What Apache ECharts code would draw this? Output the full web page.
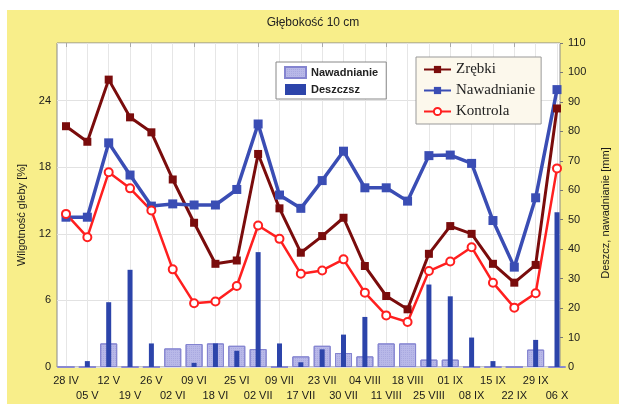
<!DOCTYPE html>
<html>
<head>
<meta charset="utf-8">
<script src="https://cdn.jsdelivr.net/npm/echarts@6/dist/echarts.min.js"></script>
<style>
html, body { margin: 0; padding: 0; background: #fff; }
#chart { position: absolute; left: 7px; top: 10px; width: 612px; height: 394px; }
</style>
</head>
<body>
<div id="chart"></div>
<script>
// terminy pomiarow
var dates = ['28 IV', '05 V', '12 V', '19 V', '26 V', '02 VI', '09 VI', '18 VI', '25 VI', '02 VII', '09 VII', '17 VII',
    '23 VII', '30 VII', '04 VIII', '11 VIII', '18 VIII', '25 VIII', '01 IX', '08 IX', '15 IX', '22 IX', '29 IX', '06 X'];

// wilgotnosc gleby [%]
var zrebki = [21.7, 20.3, 25.9, 22.5, 21.15, 16.9, 13.0, 9.3, 9.6, 19.2, 14.3, 10.3,
    11.8, 13.45, 9.1, 6.4, 5.2, 10.2, 12.7, 12.0, 9.3, 7.6, 9.2, 23.3];
var nawadnianie = [13.5, 13.5, 20.2, 17.3, 14.5, 14.7, 14.6, 14.6, 16.0, 21.9, 15.5, 14.3,
    16.8, 19.45, 16.15, 16.15, 14.95, 19.05, 19.1, 18.35, 13.2, 9.0, 15.25, 25.0];
var kontrola = [13.8, 11.7, 17.55, 16.1, 14.1, 8.8, 5.75, 5.9, 7.3, 12.75, 11.55, 8.4,
    8.7, 9.7, 6.7, 4.65, 4.05, 8.65, 9.5, 10.8, 7.6, 5.35, 6.65, 17.9];

// opad i nawadnianie [mm]
var deszcz = [0, 2, 22, 33, 8, 0, 1.4, 8, 5.5, 39, 8, 1.6,
    6, 11, 17, 0, 0, 28, 24, 10, 2, 0, 9.2, 52.5];
var nawodnienie = [0, 0, 8, 0, 0, 6.3, 7.8, 8, 7.2, 6.1, 0, 3.6,
    7.2, 4.75, 3.6, 8, 8, 2.5, 2.5, 0, 0, 0, 5.9, 0];

var leftTicks = {min: 0, max: 29.2, interval: 6};
var rightTicks = {min: 0, max: 110, interval: 10};
var barNames = {nawBar: 'Nawadnianie', Deszczsz: 'Deszczsz'};

var sans = 'Liberation Sans, Arial, sans-serif', serif = 'Liberation Serif, Times New Roman, serif';

function lineSeries(name, data, color, symbol, size, width, fill) {
    return {
        name: name, type: 'line', xAxisIndex: 1, yAxisIndex: 2, data: data,
        symbol: symbol, symbolSize: size, z: 5,
        lineStyle: {color: color, width: width},
        itemStyle: {color: fill || color, borderColor: color, borderWidth: fill ? 2 : 0}
    };
}

var chart = echarts.init(document.getElementById('chart'));
chart.setOption({
    backgroundColor: '#f8ee8a',
    animation: false,
    title: {text: 'Głębokość 10 cm', left: 'center', top: 2,
        textStyle: {fontFamily: sans, fontSize: 12, fontWeight: 'normal', color: '#222'}},
    grid: [
        {left: 50, right: 52, top: 33, bottom: 37, show: true, backgroundColor: '#fff', borderColor: '#8a8a8a', borderWidth: 1},
        {left: 59, right: 62, top: 33, bottom: 37}
    ],
    legend: [
        {data: ['nawBar', 'Deszczsz'], orient: 'vertical', left: 269, top: 52, selectedMode: false, icon: 'rect',
            formatter: function (n) { return barNames[n]; },
            itemWidth: 21, itemHeight: 11, itemGap: 5, padding: [4, 8, 4, 8],
            backgroundColor: '#fff', borderColor: '#888', borderWidth: 1,
            textStyle: {fontFamily: sans, fontSize: 11, fontWeight: 'bold', color: '#222'}},
        {data: ['Zrębki', 'Nawadnianie', 'Kontrola'], orient: 'vertical', left: 409, top: 47, selectedMode: false,
            itemWidth: 27, itemHeight: 9, itemGap: 6, padding: [5, 6, 5, 7],
            backgroundColor: '#fcf8ec', borderColor: '#999', borderWidth: 1,
            textStyle: {fontFamily: serif, fontSize: 15, color: '#222'}}
    ],
    xAxis: [
        {gridIndex: 0, type: 'value', min: 0, max: 1, show: false},
        {gridIndex: 1, type: 'category', data: dates, boundaryGap: false,
            axisLine: {show: false}, axisTick: {show: false},
            axisLabel: {interval: 0, margin: 6, fontFamily: sans, fontSize: 11, color: '#1a1a1a', lineHeight: 15,
                formatter: function (v, i) { return i % 2 ? '\n' + v : v; }},
            splitLine: {show: true, lineStyle: {color: '#e6e6e6'}}},
        {gridIndex: 1, type: 'category', data: dates, boundaryGap: false, show: false},
        {gridIndex: 1, type: 'category', data: dates, boundaryGap: false, position: 'top',
            axisLine: {show: false}, axisLabel: {show: false},
            axisTick: {show: true, inside: true, length: 4, lineStyle: {color: '#aaa'}}}
    ],
    yAxis: [
        {gridIndex: 0, type: 'value', position: 'left', min: leftTicks.min, max: leftTicks.max, interval: leftTicks.interval,
            axisLine: {show: false}, axisTick: {show: false},
            axisLabel: {showMaxLabel: false, margin: 6, fontFamily: sans, fontSize: 11, color: '#1a1a1a'},
            splitLine: {lineStyle: {color: '#e2e2e2'}},
            name: 'Wilgotność gleby [%]', nameLocation: 'middle', nameRotate: 90, nameGap: 28,
            nameTextStyle: {fontFamily: sans, fontSize: 11, color: '#1a1a1a', padding: [0, 20, 0, 0]}},
        {gridIndex: 0, type: 'value', position: 'right', min: rightTicks.min, max: rightTicks.max, interval: rightTicks.interval,
            axisLine: {show: false}, axisTick: {show: true, length: 3, lineStyle: {color: '#777'}},
            axisLabel: {margin: 8, fontFamily: sans, fontSize: 11, color: '#1a1a1a'},
            splitLine: {show: false},
            name: 'Deszcz, nawadnianie [mm]', nameLocation: 'middle', nameRotate: 90, nameGap: 40,
            nameTextStyle: {fontFamily: sans, fontSize: 11, color: '#1a1a1a', padding: [0, 16, 0, 0]}},
        {gridIndex: 1, type: 'value', min: leftTicks.min, max: leftTicks.max, show: false, splitLine: {show: false}},
        {gridIndex: 1, type: 'value', min: rightTicks.min, max: rightTicks.max, show: false, splitLine: {show: false}}
    ],
    series: [
        {name: 'nawBar', type: 'bar', xAxisIndex: 1, yAxisIndex: 3, data: nawodnienie, barWidth: 17, z: 2,
            itemStyle: {color: '#b8b8e8', borderColor: '#8484d0', borderWidth: 1,
                decal: {symbol: 'rect', symbolSize: 1, dashArrayX: [1, 1], dashArrayY: [1, 1], color: 'rgba(150,150,215,0.45)'}}},
        {name: 'Deszczsz', type: 'bar', xAxisIndex: 2, yAxisIndex: 3, data: deszcz, barWidth: 5, z: 3,
            itemStyle: {color: '#2c44aa'}},
        lineSeries('Zrębki', zrebki, '#7a0c0c', 'rect', 8, 3),
        lineSeries('Nawadnianie', nawadnianie, '#3a4db4', 'rect', 9, 3.5),
        lineSeries('Kontrola', kontrola, '#ff1f1f', 'circle', 8, 2.5, '#fff')
    ]
});
</script>
</body>
</html>
